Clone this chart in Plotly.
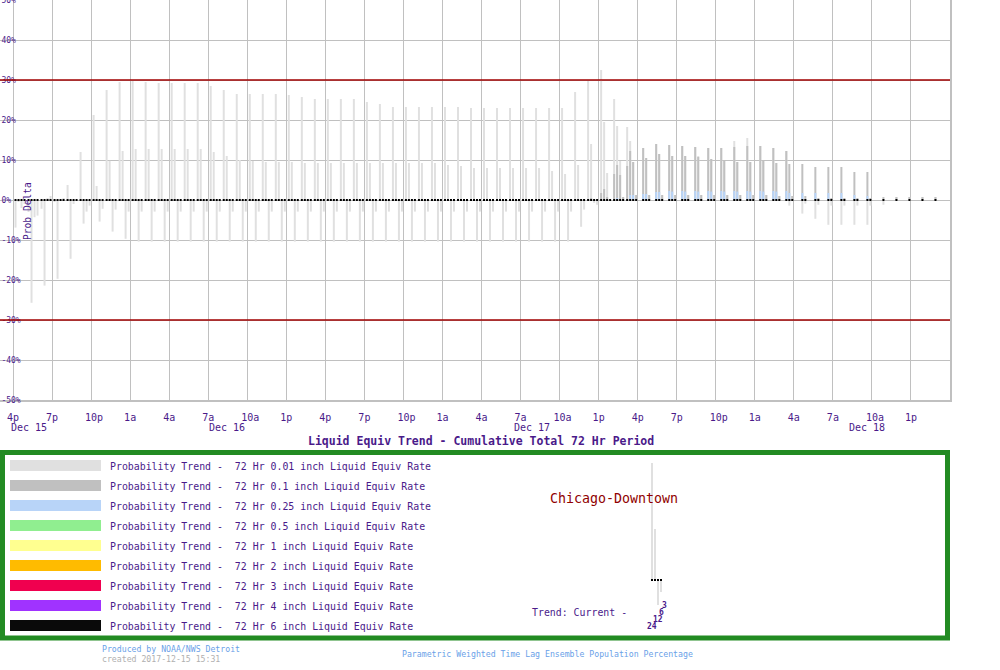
import plotly.graph_objects as go

# ---------------- data ----------------
forecast_hour = list(range(71))          # hours after 4p Dec 15
tick_hours = list(range(0, 70, 3))
tick_labels = ["4p", "7p", "10p", "1a", "4a", "7a", "10a", "1p",
               "4p", "7p", "10p", "1a", "4a", "7a", "10a", "1p",
               "4p", "7p", "10p", "1a", "4a", "7a", "10a", "1p"]
date_labels = ["Dec 15", "Dec 16", "Dec 17", "Dec 18"]
y_ticks = [-50, -40, -30, -20, -10, 0, 10, 20, 30, 40, 50]
threshold_lines = [30, -30]
lead_hours = [24, 12, 6, 3]

# 0.01 inch: trend vs run 24, 12, 6, 3 h earlier
p001_24 = ([-6.9, -3.0, -2.2, -0.5, 3.75, 12.0, 21.25, 27.5, 29.5, 29.75, 29.5,
            29.25, 29.25, 29.25, 29.25, 28.5, 27.5, 26.5, 26.5, 26.5, 26.5, 26.25,
            25.75, 25.25, 25.25, 25.25, 25.25, 24.5, 24.0, 23.25, 23.25, 23.25,
            23.25, 23.25, 23.25] + [23.0] * 8 + [27.0, 29.75, 32.5, 25.25, 18.25]
           + [None] * 23)
p001_12 = ([-0.5, -25.7, -21.4, -19.7, -14.7, -5.9, 3.5, 9.8, 12.25] + [12.75] * 6
           + [12.0, 11.0, 10.0, 9.75, 9.5, 9.5, 9.5] + [9.25] * 11 + [8.75, 8.5]
           + [8.0] * 6 + [7.25, 6.5, 8.75, 14.0, 19.5, 18.5, 14.75, 13.0, 14.0,
                          13.75, 13.5, 13.25, 13.0, 13.0, 14.75, 15.5, 13.5, 13.0, 12.25]
           + [None] * 11)
p001_6 = ([-2.0, -4.3, 0.5, 0.0, -1.0, -2.9, -5.4, -7.9, -9.7] + [-10.4] * 34
          + [-6.7, -0.7, 6.75, 9.75, 9.5, 10.5, 11.5, 11.0, 11.0, 11.0, 10.25, 9.75,
             9.5, 9.5, 9.75, 9.25, -1.4, -3.4, -4.7, -6.2, -6.2, -6.2, -6.2]
          + [None] * 5)
p001_3 = ([-1.0, -3.9, 1.0, 0.5, 0.0, -1.4, -2.2, -2.4] + [-2.9] * 35
          + [-2.4, -1.2, 0.0, 0.75] + [1.25] * 11 + [1.0, 1.0, -0.9, -1.2]
          + [-1.4] * 4 + [-1.2] + [0.75] * 4)

# 0.1 inch
p01_24 = [0.0] * 44 + [0.25, 1.75, 6.5, 8.5] + [None] * 23
p01_12 = ([0.0] * 44 + [0.5, 2.75, 8.75, 12.25, 13.0, 14.0, 13.75, 13.5, 13.25,
                        13.0, 13.0, 13.25, 13.5, 13.5, 13.0, 12.25] + [None] * 11)
p01_6 = ([0.0] * 45 + [0.75, 6.25, 9.5, 10.5, 11.5, 11.0, 11.0, 10.75, 10.25, 9.75,
                       9.5, 9.5, 9.75, 9.25, 9.0, 9.0, 8.25, 8.25, 8.25, 7.0, 7.0]
         + [None] * 5)
p01_3 = [0.0] * 46 + [0.75] + [1.25] * 11 + [1.0] * 3 + [0.5] * 5 + [0.75] * 5

# 0.25 inch
p025_24 = [0.0] * 48 + [None] * 23
p025_12 = [0.0] * 46 + [0.5, 1.25, 1.5, 2.0] + [2.25] * 10 + [None] * 11
p025_6 = [0.0] * 47 + [1.25, 1.5, 2.0] + [2.1] * 9 + [1.75] * 5 + [1.25, 1.0] + [None] * 5
p025_3 = [0.0] * 71

# 6 inch (no change wherever the comparison run exists)
p6_24 = [0.0] * 48 + [None] * 23
p6_12 = [0.0] * 60 + [None] * 11
p6_6 = [0.0] * 66 + [None] * 5
p6_3 = [0.0] * 71

# inset sample ("Trend: Current - 24, 12, 6, 3")
inset_values = [29.25, 12.75, -6.25, -3.0]
inset_zero = [0.0, 0.0, 0.0, 0.0]

legend_names = ["0.01", "0.1", "0.25", "0.5", "1", "2", "3", "4", "6"]
legend_colors = ["#e0e0e0", "#c0c0c0", "#b8d4f8", "#90ee90", "#ffff90",
                 "#ffbb00", "#f0004f", "#a033ff", "#0a0a0a"]

for arr in [p001_24, p001_12, p001_6, p001_3, p01_24, p01_12, p01_6, p01_3,
            p025_24, p025_12, p025_6, p025_3, p6_24, p6_12, p6_6, p6_3]:
    assert len(arr) == 71, len(arr)

# ---------------- layout constants ----------------
W, H = 1000, 670
PLOT_W, PLOT_H = 950, 400
PXH = PLOT_W / 73.0          # pixels per hour
LEFT0, SLOT, BARW = 1.5, 3.0, 2.0
PURPLE = "#4a1a8a"
MONO = "DejaVu Sans Mono"
GRID = "#c0c0c0"


def px(x):
    return x / W


def py(y):
    return 1 - y / H


fig = go.Figure()

bar_series = [
    (legend_colors[0], [p001_24, p001_12, p001_6, p001_3]),
    (legend_colors[1], [p01_24, p01_12, p01_6, p01_3]),
    (legend_colors[2], [p025_24, p025_12, p025_6, p025_3]),
]
for color, slots in bar_series:
    for s, vals in enumerate(slots):
        fig.add_trace(go.Bar(
            x=forecast_hour, y=vals,
            offset=(LEFT0 + SLOT * s) / PXH, width=BARW / PXH,
            marker=dict(color=color, line=dict(width=0)),
            hoverinfo="skip", showlegend=False))

for s, vals in enumerate([p6_24, p6_12, p6_6, p6_3]):
    xs = [h + (LEFT0 + SLOT * s + BARW / 2) / PXH for h in forecast_hour]
    fig.add_trace(go.Scatter(
        x=xs, y=vals, mode="markers",
        marker=dict(symbol="square", size=2, color="#000000", line=dict(width=0)),
        hoverinfo="skip", showlegend=False))

# inset
inset_x = list(range(len(lead_hours)))
fig.add_trace(go.Bar(x=inset_x, y=inset_values, offset=1 / 3, width=2 / 3,
                     marker=dict(color=legend_colors[0], line=dict(width=0)),
                     xaxis="x2", yaxis="y2", hoverinfo="skip", showlegend=False))
fig.add_trace(go.Scatter(x=[v + 2 / 3 for v in inset_x], y=inset_zero, mode="markers",
                         marker=dict(symbol="square", size=2, color="#000000"),
                         xaxis="x2", yaxis="y2", hoverinfo="skip", showlegend=False))

shapes = []
for t in threshold_lines:
    shapes.append(dict(type="line", xref="x", yref="y", x0=-1, x1=72, y0=t, y1=t,
                       line=dict(color="#a00000", width=1.3), layer="above"))
# legend box
shapes.append(dict(type="rect", xref="paper", yref="paper",
                   x0=px(2.5), x1=px(947.5), y0=py(638), y1=py(452.5),
                   line=dict(color="#228b22", width=5), fillcolor="rgba(0,0,0,0)"))

annotations = []
for i, (nm, col) in enumerate(zip(legend_names, legend_colors)):
    top = 460 + 20 * i
    shapes.append(dict(type="rect", xref="paper", yref="paper",
                       x0=px(10), x1=px(101), y0=py(top + 11), y1=py(top),
                       line=dict(width=0), fillcolor=col))
    annotations.append(dict(
        xref="paper", yref="paper", x=px(108), y=py(top + 6),
        xanchor="left", yanchor="middle", showarrow=False,
        text="Probability Trend - \u00a072 Hr %s inch Liquid Equiv Rate" % nm,
        font=dict(family=MONO, size=9.9, color=PURPLE)))

date_px = [9, 207, 512, 847]
for lab, xp in zip(date_labels, date_px):
    annotations.append(dict(xref="paper", yref="paper", x=px(xp), y=py(427),
                            xanchor="left", yanchor="middle", showarrow=False,
                            text=lab, font=dict(family=MONO, size=10, color=PURPLE)))

annotations += [
    dict(xref="paper", yref="paper", x=px(481), y=py(441), xanchor="center",
         yanchor="middle", showarrow=False,
         text="<b>Liquid Equiv Trend - Cumulative Total 72 Hr Period</b>",
         font=dict(family=MONO, size=11.5, color=PURPLE)),
    dict(xref="paper", yref="paper", x=px(28), y=py(211), xanchor="center",
         yanchor="middle", showarrow=False, textangle=-90, text="Prob Delta",
         font=dict(family=MONO, size=9.6, color=PURPLE)),
    dict(xref="paper", yref="paper", x=px(614), y=py(498), xanchor="center",
         yanchor="middle", showarrow=False, text="Chicago-Downtown",
         font=dict(family=MONO, size=13.3, color="#900000")),
    dict(xref="paper", yref="paper", x=px(530), y=py(612), xanchor="left",
         yanchor="middle", showarrow=False, text="Trend: Current -",
         font=dict(family=MONO, size=9.9, color=PURPLE)),
    dict(xref="paper", yref="paper", x=px(100), y=py(649), xanchor="left",
         yanchor="middle", showarrow=False, text="Produced by NOAA/NWS Detroit",
         font=dict(family=MONO, size=8.2, color="#6a9fe8")),
    dict(xref="paper", yref="paper", x=px(100), y=py(659), xanchor="left",
         yanchor="middle", showarrow=False, text="created 2017-12-15 15:31",
         font=dict(family=MONO, size=8.2, color="#b0b0b0")),
    dict(xref="paper", yref="paper", x=px(400), y=py(654), xanchor="left",
         yanchor="middle", showarrow=False,
         text="Parametric Weighted Time Lag Ensemble Population Percentage",
         font=dict(family=MONO, size=8.2, color="#6a9fe8")),
]
inset_label_pos = [(645, 626), (650.5, 619), (656.5, 612), (659.5, 605)]
for lead, (xl, yl) in zip(lead_hours, inset_label_pos):
    annotations.append(dict(xref="paper", yref="paper", x=px(xl), y=py(yl),
                            xanchor="left", yanchor="middle", showarrow=False,
                            text="<b>%d</b>" % lead,
                            font=dict(family=MONO, size=8, color=PURPLE)))

tick_text = [t if len(t) == 2 else "\u00a0" + t for t in tick_labels]

fig.update_layout(
    width=W, height=H, margin=dict(l=0, r=0, t=0, b=0),
    paper_bgcolor="white", plot_bgcolor="white",
    barmode="overlay", showlegend=False,
    shapes=shapes, annotations=annotations,
    xaxis=dict(domain=[0, PLOT_W / W], range=[-1, 72], tickvals=tick_hours,
               ticktext=tick_text, showgrid=True, gridcolor=GRID, gridwidth=1,
               showline=True, linecolor=GRID, linewidth=2, mirror=True,
               zeroline=False, ticks="", automargin=False, ticklabelstandoff=7,
               tickfont=dict(family=MONO, size=10, color=PURPLE)),
    yaxis=dict(domain=[1 - PLOT_H / H, 1], range=[-50, 50], tickvals=y_ticks,
               ticktext=["%d%%" % v for v in y_ticks], showgrid=True,
               gridcolor=GRID, gridwidth=1, showline=True, linecolor=GRID,
               linewidth=2, mirror=True, zeroline=False, ticks="",
               ticklabelposition="inside", ticklabeloverflow="allow",
               automargin=False,
               tickfont=dict(family=MONO, size=8, color=PURPLE)),
    xaxis2=dict(domain=[px(650), px(662)], range=[0, 4], visible=False,
                anchor="y2"),
    yaxis2=dict(domain=[py(628), py(460)], range=[-12, 30], visible=False,
                anchor="x2"),
)

fig.write_html("out.html",
               config={"displayModeBar": False},
               post_script="document.body.style.margin='0';"
                           "document.documentElement.style.overflow='hidden';")
